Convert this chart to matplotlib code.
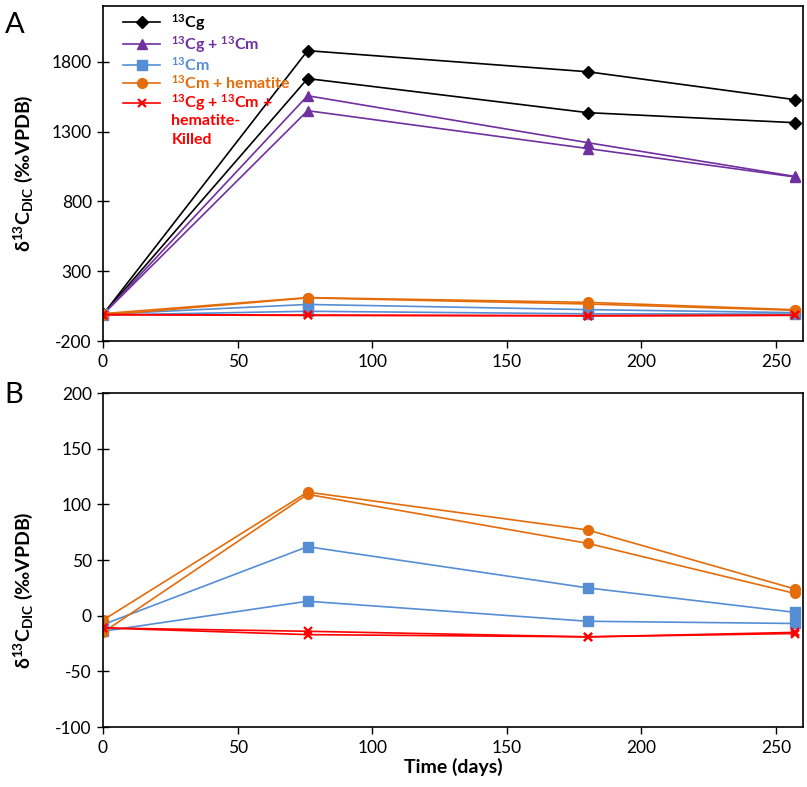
import matplotlib
matplotlib.use('Agg')
import matplotlib.pyplot as plt
from matplotlib.lines import Line2D

plt.rcParams['font.family'] = ['Lato', 'DejaVu Sans']
plt.rcParams['mathtext.default'] = 'regular'
plt.rcParams['axes.unicode_minus'] = False

days = [0, 76, 180, 257]

# panel A: the two large-enrichment treatments (two replicates each)
cg_1 = [-10, 1880, 1729, 1529]
cg_2 = [-10, 1680, 1436, 1364]
cgcm_1 = [-10, 1557, 1221, 979]
cgcm_2 = [-10, 1450, 1179, 975]

# small-enrichment treatments (shown in both panels)
cm_1 = [-8, 62, 25, 3]
cm_2 = [-14, 13, -5, -7]
cmhem_1 = [-4, 111, 77, 24]
cmhem_2 = [-15, 109, 65, 20]
killed_1 = [-11, -14, -19, -15]
killed_2 = [-11, -17, -19, -16]

labels = [r'$^{13}$Cg', r'$^{13}$Cg + $^{13}$Cm', r'$^{13}$Cm',
          r'$^{13}$Cm + hematite', r'$^{13}$Cg + $^{13}$Cm +']
extra_lines = ['hematite-\nKilled']

black = 'black'
purple = '#7030A0'
blue = '#558ED5'
orange = '#E46C0A'
red = '#FF0000'

fig = plt.figure(figsize=(8.07, 7.87), dpi=100)
ax_a = fig.add_axes([0.1276, 0.5667, 0.8674, 0.4257])
ax_b = fig.add_axes([0.1276, 0.0762, 0.8674, 0.4244])

lw = 1.2


def draw_small(ax):
    ax.plot(days, cm_1, color=blue, marker='s', ms=7, lw=lw)
    ax.plot(days, cm_2, color=blue, marker='s', ms=7, lw=lw)
    ax.plot(days, cmhem_1, color=orange, marker='o', ms=7, lw=lw)
    ax.plot(days, cmhem_2, color=orange, marker='o', ms=7, lw=lw)
    ax.plot(days, killed_1, color=red, marker='x', ms=6, mew=1.6, lw=lw)
    ax.plot(days, killed_2, color=red, marker='x', ms=6, mew=1.6, lw=lw)


# panel A
h1, = ax_a.plot(days, cg_1, color=black, marker='D', ms=6, lw=lw)
ax_a.plot(days, cg_2, color=black, marker='D', ms=6, lw=lw)
h2, = ax_a.plot(days, cgcm_1, color=purple, marker='^', ms=7, lw=lw)
ax_a.plot(days, cgcm_2, color=purple, marker='^', ms=7, lw=lw)
draw_small(ax_a)
h3 = Line2D([], [], color=blue, marker='s', ms=7, lw=lw)
h4 = Line2D([], [], color=orange, marker='o', ms=7, lw=lw)
h5 = Line2D([], [], color=red, marker='x', ms=6, mew=1.6, lw=lw)
blank = Line2D([], [], color='none')

leg = ax_a.legend([h1, h2, h3, h4, h5, blank], labels + extra_lines,
                  loc='upper left', frameon=False, handlelength=2.3,
                  handletextpad=0.7, labelspacing=0.04,
                  borderaxespad=0.0, bbox_to_anchor=(0.02, 1.0),
                  prop={'weight': 'bold', 'size': 11.5})
text_colors = [black, purple, blue, orange, red, red]
for t, c in zip(leg.get_texts(), text_colors):
    t.set_color(c)
    t.set_linespacing(1.45)

ax_a.set_xlim(0, 260)
ax_a.set_ylim(-200, 2200)
ax_a.set_yticks(range(-200, 2201, 500))
ax_a.set_xticks(range(0, 251, 50))

# panel B
draw_small(ax_b)
ax_b.set_xlim(0, 260)
ax_b.set_ylim(-100, 200)
ax_b.set_yticks(range(-100, 201, 50))
ax_b.set_xticks(range(0, 251, 50))
ax_b.set_xlabel('Time (days)', fontsize=14, fontweight='bold', labelpad=2)

ylab = r'δ$^{13}$C$_{DIC}$ (‰VPDB)'
for ax, ly in [(ax_a, 0.5), (ax_b, 0.41)]:
    ax.set_ylabel(ylab, fontsize=14, fontweight='bold')
    ax.yaxis.set_label_coords(-0.097, ly)
    ax.tick_params(axis='y', direction='inout', length=8, width=1,
                   labelsize=12.5, pad=4)
    ax.tick_params(axis='x', direction='out', length=5, width=1,
                   labelsize=12.5, pad=4)
    for s in ax.spines.values():
        s.set_linewidth(1.2)

fig.text(0.006, 0.985, 'A', fontsize=21, va='top', ha='left')
fig.text(0.006, 0.515, 'B', fontsize=21, va='top', ha='left')

fig.savefig('out.png', dpi=100)
